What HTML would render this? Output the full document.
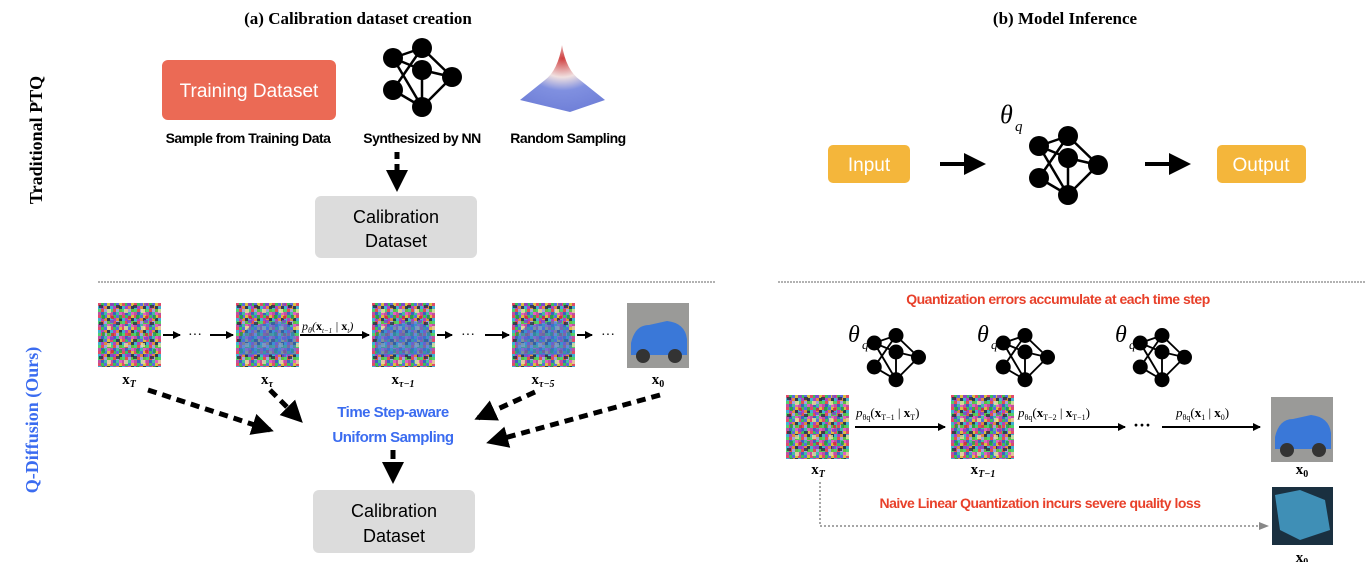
<!DOCTYPE html>
<html><head><meta charset="utf-8"><style>
body{margin:0;background:#fff;}
svg{display:block}
.s{font-family:"Liberation Sans",sans-serif}
.r{font-family:"Liberation Serif",serif}
</style></head><body>
<svg width="1366" height="562" viewBox="0 0 1366 562" xmlns="http://www.w3.org/2000/svg">
<defs>
<pattern id="nz" width="12" height="12" patternUnits="userSpaceOnUse">
<rect width="12" height="12" fill="#8a7f6a"/>
<rect x="0" y="0" width="3" height="3" fill="#e04a6a"/><rect x="3" y="0" width="3" height="3" fill="#3bbf5a"/><rect x="6" y="0" width="3" height="3" fill="#5a6ae0"/><rect x="9" y="0" width="3" height="3" fill="#d8c040"/>
<rect x="0" y="3" width="3" height="3" fill="#40b0d0"/><rect x="3" y="3" width="3" height="3" fill="#b040c0"/><rect x="6" y="3" width="3" height="3" fill="#e08a40"/><rect x="9" y="3" width="3" height="3" fill="#303a50"/>
<rect x="0" y="6" width="3" height="3" fill="#50d070"/><rect x="3" y="6" width="3" height="3" fill="#e05050"/><rect x="6" y="6" width="3" height="3" fill="#a0a0e0"/><rect x="9" y="6" width="3" height="3" fill="#60c040"/>
<rect x="0" y="9" width="3" height="3" fill="#c050a0"/><rect x="3" y="9" width="3" height="3" fill="#4060c0"/><rect x="6" y="9" width="3" height="3" fill="#40c0a0"/><rect x="9" y="9" width="3" height="3" fill="#e060c0"/>
</pattern>
<pattern id="nz2" width="17" height="17" patternUnits="userSpaceOnUse">
<rect x="1" y="2" width="4" height="3" fill="#2a3040"/><rect x="9" y="6" width="4" height="4" fill="#e8e0a0"/><rect x="4" y="12" width="3" height="4" fill="#20a040"/><rect x="13" y="13" width="3" height="3" fill="#d03030"/><rect x="12" y="0" width="4" height="3" fill="#8040d0"/>
</pattern>
<g id="nn">
<g stroke="#000" stroke-width="2.5" fill="none">
<line x1="-29" y1="-12" x2="0" y2="-22"/><line x1="-29" y1="-12" x2="0" y2="0"/><line x1="-29" y1="-12" x2="0" y2="37"/>
<line x1="-29" y1="20" x2="0" y2="-22"/><line x1="-29" y1="20" x2="0" y2="37"/>
<line x1="0" y1="-22" x2="30" y2="7"/><line x1="0" y1="0" x2="0" y2="37"/><line x1="0" y1="37" x2="30" y2="7"/><line x1="0" y1="0" x2="30" y2="7"/>
</g>
<g fill="#000"><circle cx="0" cy="-22" r="10"/><circle cx="-29" cy="-12" r="10"/><circle cx="0" cy="0" r="10"/><circle cx="30" cy="7" r="10"/><circle cx="-29" cy="20" r="10"/><circle cx="0" cy="37" r="10"/></g>
</g>
<radialGradient id="gs" cx="0.5" cy="0.2" r="0.8"><stop offset="0" stop-color="#d04040"/><stop offset="0.35" stop-color="#f0e0e0"/><stop offset="0.6" stop-color="#8090e0"/><stop offset="1" stop-color="#7080d8"/></radialGradient>
<marker id="ah" markerWidth="8" markerHeight="8" refX="7" refY="4" orient="auto" markerUnits="userSpaceOnUse"><path d="M0,0 L8,4 L0,8z" fill="#000"/></marker>
<marker id="bh" markerWidth="22" markerHeight="22" refX="18" refY="11" orient="auto" markerUnits="userSpaceOnUse"><path d="M0,0 L22,11 L0,22z" fill="#000"/></marker>
<marker id="gh" markerWidth="10" markerHeight="10" refX="9" refY="5" orient="auto" markerUnits="userSpaceOnUse"><path d="M0,1 L10,5 L0,9z" fill="#888"/></marker>
<g id="noise"><rect width="63" height="64" fill="url(#nz)"/><rect width="63" height="64" fill="url(#nz2)" opacity="0.8"/></g>
<g id="car"><rect width="62" height="65" fill="#9a9a98"/><path d="M4,40 Q8,22 22,22 L40,18 Q58,20 60,36 L60,52 L4,52z" fill="#3a78d8"/><circle cx="16" cy="53" r="7" fill="#333"/><circle cx="48" cy="53" r="7" fill="#333"/></g>
<g id="ncar"><use href="#noise"/><path d="M4,40 Q8,22 22,22 L40,18 Q58,20 60,36 L60,52 L4,52z" fill="#3a78d8" opacity="0.6"/></g>
</defs>

<text x="358" y="24" text-anchor="middle" class="r" font-weight="bold" font-size="17">(a) Calibration dataset creation</text>
<text x="1065" y="24" text-anchor="middle" class="r" font-weight="bold" font-size="17">(b) Model Inference</text>

<text transform="translate(42,140) rotate(-90)" text-anchor="middle" class="r" font-weight="bold" font-size="18">Traditional PTQ</text>
<text transform="translate(38,420) rotate(-90)" text-anchor="middle" class="r" font-weight="bold" font-size="18" fill="#3b6cf0">Q-Diffusion (Ours)</text>

<rect x="162" y="60" width="174" height="60" rx="6" fill="#eb6a55"/>
<text x="249" y="97" text-anchor="middle" class="s" font-size="19" fill="#fff">Training Dataset</text>
<use href="#nn" x="422" y="70"/>
<path d="M520,100 L545,80 Q558,70 562,45 Q566,70 580,80 L605,100 L570,112z" fill="url(#gs)"/>
<text x="248" y="143" text-anchor="middle" class="s" font-weight="bold" font-size="14" letter-spacing="-0.5">Sample from Training Data</text>
<text x="422" y="143" text-anchor="middle" class="s" font-weight="bold" font-size="14" letter-spacing="-0.5">Synthesized by NN</text>
<text x="568" y="143" text-anchor="middle" class="s" font-weight="bold" font-size="14" letter-spacing="-0.5">Random Sampling</text>
<line x1="397" y1="152" x2="397" y2="188" stroke="#000" stroke-width="5" stroke-dasharray="7,5" marker-end="url(#bh)"/>
<rect x="315" y="196" width="162" height="62" rx="6" fill="#dcdcdc"/>
<text x="396" y="223" text-anchor="middle" class="s" font-size="18">Calibration</text>
<text x="396" y="247" text-anchor="middle" class="s" font-size="18">Dataset</text>

<line x1="98" y1="282" x2="715" y2="282" stroke="#999" stroke-width="1.5" stroke-dasharray="2,1"/>
<line x1="778" y1="282" x2="1366" y2="282" stroke="#999" stroke-width="1.5" stroke-dasharray="2,1"/>

<rect x="828" y="145" width="82" height="38" rx="5" fill="#f4b63b"/>
<text x="869" y="171" text-anchor="middle" class="s" font-size="19" fill="#fff">Input</text>
<line x1="940" y1="164" x2="982" y2="164" stroke="#000" stroke-width="4" marker-end="url(#bh)"/>
<text x="1000" y="123" class="r" font-style="italic" font-size="26">θ</text><text x="1015" y="131" class="r" font-style="italic" font-size="15">q</text>
<use href="#nn" x="1068" y="158"/>
<line x1="1145" y1="164" x2="1187" y2="164" stroke="#000" stroke-width="4" marker-end="url(#bh)"/>
<rect x="1217" y="145" width="89" height="38" rx="5" fill="#f4b63b"/>
<text x="1261" y="171" text-anchor="middle" class="s" font-size="19" fill="#fff">Output</text>

<!-- bottom left -->
<use href="#noise" x="98" y="303"/>
<use href="#ncar" x="236" y="303"/>
<use href="#ncar" x="372" y="303"/>
<use href="#ncar" x="512" y="303"/>
<use href="#car" x="627" y="303"/>
<g stroke="#000" stroke-width="2">
<line x1="163" y1="335" x2="180" y2="335" marker-end="url(#ah)"/><line x1="210" y1="335" x2="233" y2="335" marker-end="url(#ah)"/>
<line x1="300" y1="335" x2="369" y2="335" marker-end="url(#ah)"/>
<line x1="437" y1="335" x2="452" y2="335" marker-end="url(#ah)"/><line x1="485" y1="335" x2="509" y2="335" marker-end="url(#ah)"/>
<line x1="577" y1="335" x2="592" y2="335" marker-end="url(#ah)"/>
</g>
<text x="195" y="339" text-anchor="middle" font-size="14" class="r">···</text>
<text x="468" y="339" text-anchor="middle" font-size="14" class="r">···</text>
<text x="608" y="339" text-anchor="middle" font-size="14" class="r">···</text>
<text x="302" y="330" class="r" font-style="italic" font-size="12">p<tspan font-size="8" dy="3">θ</tspan><tspan dy="-3">(</tspan><tspan font-weight="bold" font-style="normal">x</tspan><tspan font-size="7" dy="3">t−1</tspan><tspan dy="-3"> | </tspan><tspan font-weight="bold" font-style="normal">x</tspan><tspan font-size="7" dy="3">t</tspan><tspan dy="-3">)</tspan></text>
<g class="r" font-weight="bold" font-size="15" text-anchor="middle">
<text x="129" y="384">x<tspan font-size="10" font-style="italic" dy="3">T</tspan></text>
<text x="267" y="384">x<tspan font-size="10" font-style="italic" dy="3">τ</tspan></text>
<text x="403" y="384">x<tspan font-size="10" font-style="italic" dy="3">τ−1</tspan></text>
<text x="543" y="384">x<tspan font-size="10" font-style="italic" dy="3">τ−5</tspan></text>
<text x="658" y="384">x<tspan font-size="10" dy="3">0</tspan></text>
</g>
<g stroke="#000" stroke-width="5" stroke-dasharray="9,6" fill="none">
<line x1="148" y1="390" x2="270" y2="430" marker-end="url(#bh)"/>
<line x1="270" y1="390" x2="300" y2="420" marker-end="url(#bh)"/>
<line x1="535" y1="392" x2="478" y2="418" marker-end="url(#bh)"/>
<line x1="660" y1="395" x2="490" y2="442" marker-end="url(#bh)"/>
<line x1="393" y1="450" x2="393" y2="480" marker-end="url(#bh)"/>
</g>
<text x="393" y="417" text-anchor="middle" class="s" font-weight="bold" font-size="15" fill="#3b6cf0" letter-spacing="-0.5">Time Step-aware</text>
<text x="393" y="442" text-anchor="middle" class="s" font-weight="bold" font-size="15" fill="#3b6cf0" letter-spacing="-0.5">Uniform Sampling</text>
<rect x="313" y="490" width="162" height="63" rx="6" fill="#dcdcdc"/>
<text x="394" y="517" text-anchor="middle" class="s" font-size="18">Calibration</text>
<text x="394" y="542" text-anchor="middle" class="s" font-size="18">Dataset</text>

<!-- bottom right -->
<text x="1058" y="304" text-anchor="middle" class="s" font-weight="bold" font-size="14" fill="#e8402a" letter-spacing="-0.5">Quantization errors accumulate at each time step</text>
<g class="r" font-style="italic">
<text x="848" y="342" font-size="24">θ</text><text x="862" y="349" font-size="13">q</text>
<text x="977" y="342" font-size="24">θ</text><text x="991" y="349" font-size="13">q</text>
<text x="1115" y="342" font-size="24">θ</text><text x="1129" y="349" font-size="13">q</text>
</g>
<g transform="translate(896,352) scale(0.75)"><use href="#nn"/></g>
<g transform="translate(1025,352) scale(0.75)"><use href="#nn"/></g>
<g transform="translate(1162,352) scale(0.75)"><use href="#nn"/></g>
<use href="#noise" x="786" y="395"/>
<use href="#noise" x="951" y="395"/>
<use href="#car" x="1271" y="397"/>
<rect x="1272" y="487" width="61" height="58" fill="#1a3040"/>
<path d="M1275,495 L1300,490 L1325,500 L1330,530 L1300,540 L1280,530z" fill="#50b8e8" opacity="0.7"/>
<g stroke="#000" stroke-width="2">
<line x1="855" y1="427" x2="945" y2="427" marker-end="url(#ah)"/>
<line x1="1019" y1="427" x2="1125" y2="427" marker-end="url(#ah)"/>
<line x1="1162" y1="427" x2="1260" y2="427" marker-end="url(#ah)"/>
</g>
<text x="1142" y="431" text-anchor="middle" font-size="18" class="r" font-weight="bold">···</text>
<g class="r" font-size="13">
<text x="856" y="417"><tspan font-style="italic">p</tspan><tspan font-size="8" dy="3">θq</tspan><tspan dy="-3">(</tspan><tspan font-weight="bold">x</tspan><tspan font-size="8" dy="3">T−1</tspan><tspan dy="-3"> | </tspan><tspan font-weight="bold">x</tspan><tspan font-size="8" dy="3">T</tspan><tspan dy="-3">)</tspan></text>
<text x="1018" y="417"><tspan font-style="italic">p</tspan><tspan font-size="8" dy="3">θq</tspan><tspan dy="-3">(</tspan><tspan font-weight="bold">x</tspan><tspan font-size="8" dy="3">T−2</tspan><tspan dy="-3"> | </tspan><tspan font-weight="bold">x</tspan><tspan font-size="8" dy="3">T−1</tspan><tspan dy="-3">)</tspan></text>
<text x="1176" y="417"><tspan font-style="italic">p</tspan><tspan font-size="8" dy="3">θq</tspan><tspan dy="-3">(</tspan><tspan font-weight="bold">x</tspan><tspan font-size="8" dy="3">1</tspan><tspan dy="-3"> | </tspan><tspan font-weight="bold">x</tspan><tspan font-size="8" dy="3">0</tspan><tspan dy="-3">)</tspan></text>
</g>
<g class="r" font-weight="bold" font-size="15" text-anchor="middle">
<text x="818" y="474">x<tspan font-size="10" font-style="italic" dy="3">T</tspan></text>
<text x="983" y="474">x<tspan font-size="10" font-style="italic" dy="3">T−1</tspan></text>
<text x="1302" y="474">x<tspan font-size="10" dy="3">0</tspan></text>
<text x="1302" y="562">x<tspan font-size="10" dy="3">0</tspan></text>
</g>
<polyline points="820,482 820,526 1268,526" fill="none" stroke="#888" stroke-width="1.5" stroke-dasharray="2,2" marker-end="url(#gh)"/>
<text x="1040" y="508" text-anchor="middle" class="s" font-weight="bold" font-size="14" fill="#e8402a" letter-spacing="-0.5">Naive Linear Quantization incurs severe quality loss</text>
</svg>
</body></html>
